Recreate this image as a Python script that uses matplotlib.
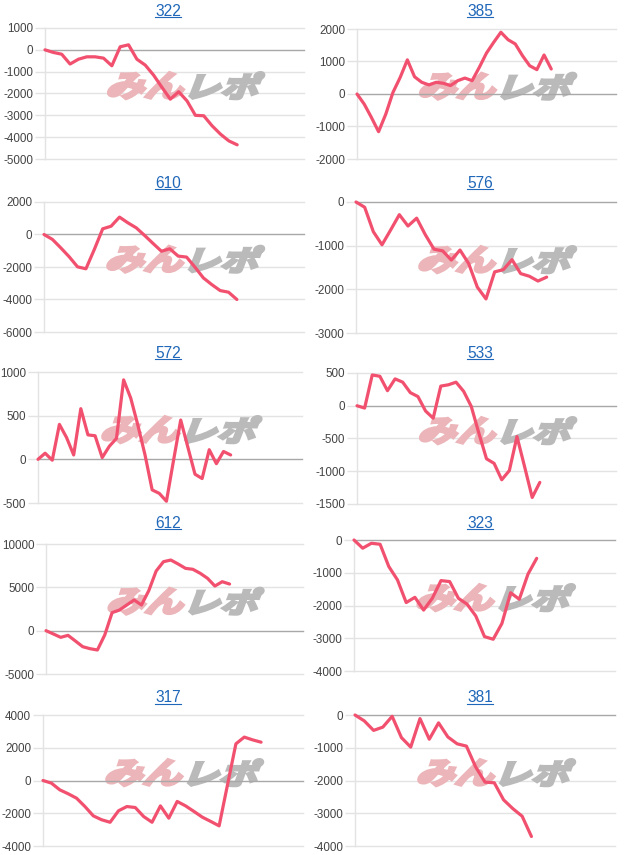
import matplotlib
matplotlib.use("Agg")
import matplotlib.pyplot as plt
import numpy as np
from matplotlib.textpath import TextPath
from matplotlib.font_manager import FontProperties
from matplotlib.patches import PathPatch
from matplotlib.transforms import Affine2D
from matplotlib.lines import Line2D

W, H = 624, 855
DPI = 100

# machine numbers (titles) and their running totals
names = ["322", "385", "610", "576", "572", "533", "612", "323", "317", "381"]

s322 = [0, -120, -200, -650, -430, -320, -320, -380, -730, 140, 230, -430, -700, -1160,
        -1720, -2260, -1920, -2340, -3000, -3020, -3480, -3860, -4170, -4350]
s385 = [0, -310, -720, -1160, -620, 50, 510, 1050, 530, 360, 280, 360, 330, 260, 410,
        490, 410, 820, 1260, 1590, 1900, 1670, 1540, 1180, 870, 750, 1200, 770]
s610 = [0, -300, -820, -1370, -1990, -2110, -920, 350, 510, 1070, 720, 410, -60, -550,
        -1030, -880, -1330, -1390, -2010, -2670, -3080, -3450, -3550, -4000]
s576 = [0, -120, -680, -980, -640, -290, -550, -370, -750, -1080, -1120, -1330, -1100,
        -1410, -1950, -2220, -1600, -1550, -1320, -1640, -1700, -1810, -1720]
s572 = [0, 70, -10, 400, 250, 50, 580, 280, 270, 20, 150, 240, 910, 700, 390, 50, -350,
        -390, -480, -10, 450, 140, -170, -220, 110, -50, 90, 50]
s533 = [0, -35, 470, 450, 230, 410, 360, 200, 140, -80, -190, 300, 320, 360, 220, -10,
        -420, -810, -880, -1130, -990, -470, -930, -1400, -1170]
s612 = [0, -380, -770, -540, -1190, -1850, -2080, -2230, -500, 2080, 2380, 2960, 3540,
        2960, 4620, 6880, 7960, 8150, 7690, 7190, 7080, 6620, 6040, 5150, 5650, 5380]
s323 = [0, -250, -100, -130, -810, -1220, -1910, -1750, -2140, -1780, -1240, -1270,
        -1780, -1960, -2320, -2950, -3030, -2550, -1610, -1810, -1040, -560]
s317 = [0, -160, -570, -810, -1080, -1590, -2160, -2400, -2550, -1850, -1590, -1650,
        -2200, -2550, -1550, -2300, -1280, -1550, -1890, -2240, -2500, -2770, -260, 2240,
        2650, 2480, 2340]
s381 = [0, -180, -470, -370, -40, -690, -980, -110, -740, -240, -670, -880, -950, -1590,
        -2050, -2070, -2590, -2860, -3090, -3710]
series = [s322, s385, s610, s576, s572, s533, s612, s323, s317, s381]

# length of each chart's x domain (number of steps)
x_slots = [31, 36, 31, 30, 37, 34, 35, 30, 31, 28]

# y axis: (min, max, step)
y_axes = [(-5000, 1000, 1000), (-2000, 2000, 1000), (-6000, 2000, 2000), (-3000, 0, 1000),
          (-500, 1000, 500), (-1500, 500, 500), (-5000, 10000, 5000), (-4000, 0, 1000),
          (-4000, 4000, 2000), (-4000, 0, 1000)]

# plot boxes in pixels: left, right, top, bottom
boxes = [(45, 304, 28, 159), (357, 616, 29, 159),
         (44, 304, 202, 332), (356, 616, 202, 333),
         (38, 302, 372, 503), (357, 616, 373, 504),
         (46, 303, 544, 674), (354, 615, 540, 671),
         (43, 303, 715, 846), (355, 615, 715, 846)]
title_y = [11, 11, 183, 183, 353, 353, 523, 523, 697, 697]
title_x = [168, 480]

LINE = "#f2506f"
GRID = "#e3e3e3"
ZERO = "#a8a8a8"
LABEL = "#444444"
LINK = "#1f67b8"

plt.rcParams["font.family"] = ["Liberation Sans", "DejaVu Sans"]

fig = plt.figure(figsize=(W / DPI, H / DPI), dpi=DPI)
fig.patch.set_facecolor("white")

mark_font = FontProperties(family="Noto Sans CJK JP", weight="bold")


def stamp(ax, text, color, x0, x1, y0, y1):
    # slanted, heavy logo text squeezed into an axes-fraction box
    tp = TextPath((0, 0), text, size=10, prop=mark_font)
    p = Affine2D().skew_deg(16, 0).transform_path(tp)
    bb = p.get_extents()
    tr = (Affine2D().translate(-bb.x0, -bb.y0)
          .scale((x1 - x0) / bb.width, (y1 - y0) / bb.height)
          .translate(x0, y0) + ax.transAxes)
    ax.add_patch(PathPatch(p, transform=tr, facecolor=color, edgecolor=color,
                           lw=2.2, joinstyle="miter", zorder=1, clip_on=False))


titles = []
for i, (name, vals) in enumerate(zip(names, series)):
    l, r, t, b = boxes[i]
    ax = fig.add_axes([l / W, 1 - b / H, (r - l) / W, (b - t) / H])
    ymin, ymax, step = y_axes[i]
    x = np.arange(len(vals))
    ax.plot(x, vals, color=LINE, lw=2.3, solid_joinstyle="round",
            solid_capstyle="round", zorder=3, clip_on=False)
    ax.set_xlim(0, x_slots[i])
    ax.set_ylim(ymin, ymax)
    ticks = np.arange(ymin, ymax + step, step)
    ax.set_yticks(ticks)
    ax.set_yticklabels([str(int(v)) for v in ticks])
    for v in ticks:
        ax.axhline(v, color=ZERO if v == 0 else GRID, lw=1.0,
                   zorder=2 if v == 0 else 0, clip_on=False)
    ax.set_xticks([])
    for s in ["top", "right", "bottom"]:
        ax.spines[s].set_visible(False)
    ax.spines["left"].set_color(GRID)
    ax.spines["left"].set_linewidth(1.0)
    ax.tick_params(axis="y", length=7, color=GRID, width=1.0, pad=1.5,
                   labelsize=8.4, labelcolor=LABEL)
    ax.set_facecolor("none")

    stamp(ax, "みん", "#ebb5b9", 0.245, 0.535, 0.46, 0.66)
    stamp(ax, "レポ", "#bababa", 0.56, 0.845, 0.46, 0.66)

    tx = title_x[i % 2]
    ty = title_y[i]
    titles.append(fig.text(tx / W, 1 - ty / H, name, color=LINK, fontsize=11.2,
                           ha="center", va="center"))

# underline the titles like links
fig.canvas.draw()
renderer = fig.canvas.get_renderer()
for t in titles:
    bb = t.get_window_extent(renderer)
    yline = bb.y0 + 1
    fig.add_artist(Line2D([bb.x0 / W, bb.x1 / W], [yline / H, yline / H],
                          color=LINK, lw=0.8, transform=fig.transFigure))

fig.savefig("out.png", dpi=DPI, facecolor="white")
